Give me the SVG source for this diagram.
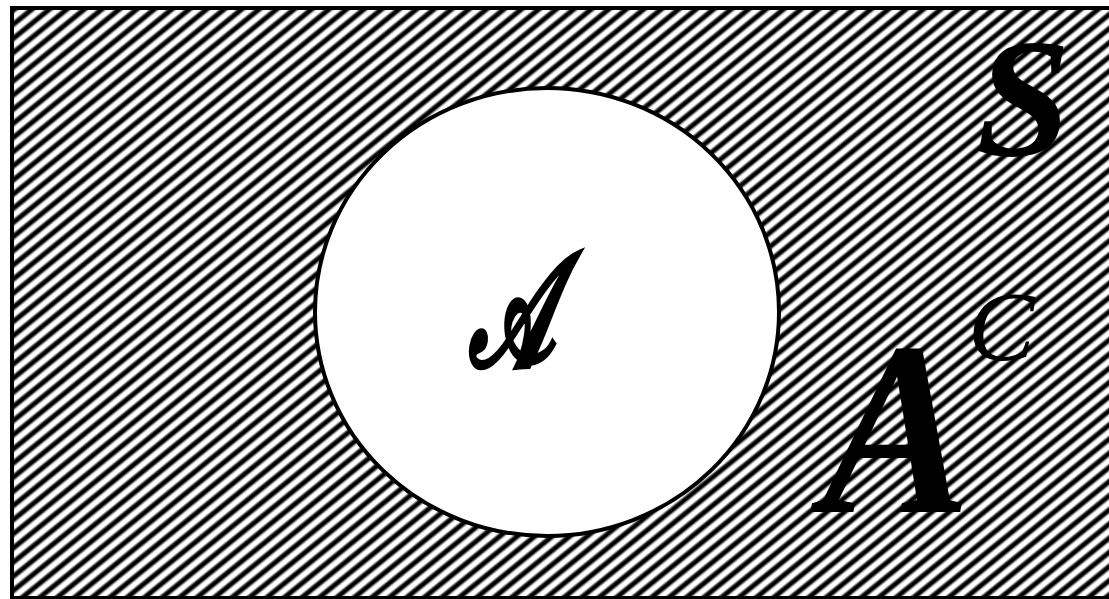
<svg xmlns="http://www.w3.org/2000/svg" width="1109" height="599" viewBox="0 0 1109 599">
<style>
.lbl{font-family:"Liberation Serif","Times New Roman",serif;fill:#000}
</style>
<defs>
<linearGradient id="stripe" x1="0" y1="0" x2="0" y2="1">
<stop offset="0" stop-color="#fff"/>
<stop offset="0.14" stop-color="#fff"/>
<stop offset="0.36" stop-color="#000"/>
<stop offset="0.6" stop-color="#000"/>
<stop offset="0.82" stop-color="#fff"/>
<stop offset="1" stop-color="#fff"/>
</linearGradient>
<pattern id="hatch" width="40" height="11" patternUnits="userSpaceOnUse" patternTransform="rotate(-39)">
<rect width="40" height="11" fill="url(#stripe)"/>
</pattern>
</defs>
<rect x="0" y="0" width="1109" height="599" fill="#fff"/>
<g id="universe">
<rect x="12" y="8" width="1100" height="590" fill="url(#hatch)" stroke="#000" stroke-width="4"/>
<text class="lbl" x="976" y="155" font-size="170" font-weight="bold" font-style="italic">S</text>
</g>
<g id="setA">
<ellipse cx="547" cy="312" rx="232" ry="224" fill="#fff" stroke="#000" stroke-width="4"/>
<text class="lbl" transform="translate(512,365) scale(0.6,1.05)" font-size="150" font-weight="bold" font-style="italic" text-anchor="middle" font-family="DejaVu Serif">𝓐</text>
</g>
<g id="complement">
<text class="lbl" transform="translate(822,512) scale(0.9,1)" font-size="248" font-weight="bold" font-style="italic">A</text>
<text class="lbl" x="968" y="360" font-size="100" font-style="italic">C</text>
</g>
<g id="connectors"></g>
</svg>
